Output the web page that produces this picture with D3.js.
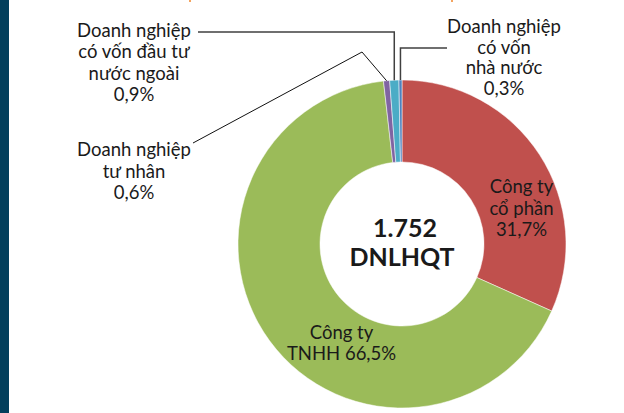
<!DOCTYPE html>
<meta charset="utf-8">
<title>Cơ cấu DNLHQT theo loại hình doanh nghiệp</title>
<style>
body { margin: 0; background: #fff; }
text { font-family: Lato, "Open Sans", sans-serif; fill: #1a1a1a; }
</style>
<body>
<div id="chart"></div>
<script src="https://d3js.org/d3.v7.min.js"></script>
<script>

// data, clockwise from 12 o'clock
var categories = ["Công ty cổ phần", "Công ty TNHH", "Doanh nghiệp tư nhân",
                  "Doanh nghiệp có vốn đầu tư nước ngoài", "Doanh nghiệp có vốn nhà nước"];
var shares = [31.7, 66.5, 0.6, 0.9, 0.3];
var colors = ["#c0504d", "#9bbb59", "#8064a2", "#4bacc6", "#4f81bd"];
var labelLines = [
  ["Công ty", "cổ phần", "31,7%"],
  ["Công ty", "TNHH 66,5%"],
  ["Doanh nghiệp", "tư nhân", "0,6%"],
  ["Doanh nghiệp", "có vốn đầu tư", "nước ngoài", "0,9%"],
  ["Doanh nghiệp", "có vốn", "nhà nước", "0,3%"]
];
var centerLines = ["1.752", "DNLHQT"];

var width = 624, height = 413;
var cx = 402, cy = 244, outerR = 164, innerR = 82;

var svg = d3.select("#chart").append("svg")
    .attr("width", width)
    .attr("height", height);

// dark strip on the left edge
svg.append("rect").attr("x", 0).attr("y", 0).attr("width", 9).attr("height", height)
  .attr("fill", "#023f5c");
// bits of the cut-off frame above
svg.append("rect").attr("x", 189).attr("y", 0).attr("width", 2).attr("height", 2).attr("fill", "#f4a460");
svg.append("rect").attr("x", 451).attr("y", 0).attr("width", 2).attr("height", 2).attr("fill", "#f4a460");

var pie = d3.pie().sort(null).value(function(d) { return d; });
var arcs = pie(shares);
var arc = d3.arc().innerRadius(innerR).outerRadius(outerR);

var g = svg.append("g").attr("transform", "translate(" + cx + "," + cy + ")");

g.selectAll("path.slice")
  .data(arcs)
  .enter()
  .append("path")
    .attr("class", "slice")
    .attr("d", arc)
    .attr("fill", function(d, i) { return colors[i]; })
    .attr("stroke", "#fff")
    .attr("stroke-width", 0.5);

// point on the outer edge at the middle of a slice
function edgePoint(d) {
  var a = (d.startAngle + d.endAngle) / 2;
  return [outerR * Math.sin(a), -outerR * Math.cos(a)];
}

// label blocks: [x, baseline of first line, line height]
var labelPos = [
  [119.5, -51, 21.5],
  [-60.5, 95, 20.5],
  [-268, -88, 21.5],
  [-268, -207.5, 21.5],
  [102, -211, 20.5]
];

function drawLabel(i) {
  var p = labelPos[i];
  var t = g.append("text")
    .attr("text-anchor", "middle")
    .style("font-size", "18.5px");
  labelLines[i].forEach(function(s, k) {
    t.append("tspan").attr("x", p[0]).attr("y", p[1] + k * p[2]).text(s);
  });
}
labelLines.forEach(function(l, i) { drawLabel(i); });

// leader lines
var line = d3.line();
var pFdi = edgePoint(arcs[3]);
g.append("path")
  .attr("d", line([[pFdi[0], pFdi[1]], [pFdi[0], -212], [-204, -212]]))
  .attr("stroke", "#404040").attr("stroke-width", 1.5).attr("fill", "none");

var pNn = edgePoint(arcs[4]);
g.append("path")
  .attr("d", line([[pNn[0], pNn[1]], [pNn[0], -196], [45, -196]]))
  .attr("stroke", "#404040").attr("stroke-width", 1.5).attr("fill", "none");

var pTn = edgePoint(arcs[2]);
g.append("path")
  .attr("d", line([[pTn[0], pTn[1]], [-40, -192], [-209, -101]]))
  .attr("stroke", "#111").attr("stroke-width", 1).attr("fill", "none");

// center text
var ct = g.append("text")
  .attr("text-anchor", "middle")
  .style("font-size", "25px")
  .style("font-weight", "bold");
centerLines.forEach(function(s, k) {
  ct.append("tspan").attr("x", k === 0 ? 3 : 0).attr("y", -7.5 + k * 29).text(s);
});

</script>
</body>
